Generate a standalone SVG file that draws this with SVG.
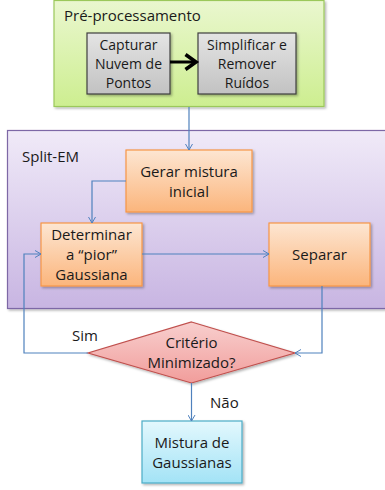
<svg xmlns="http://www.w3.org/2000/svg" width="385" height="490" viewBox="0 0 385 490">
<defs>
<linearGradient id="gGreen" x1="0" y1="0" x2="0" y2="1"><stop offset="0" stop-color="#eaf7cf"/><stop offset="1" stop-color="#cdee90"/></linearGradient>
<linearGradient id="gGrey" x1="0" y1="0" x2="0" y2="1"><stop offset="0" stop-color="#e4e4e4"/><stop offset="1" stop-color="#c2c2c2"/></linearGradient>
<linearGradient id="gPurple" x1="0" y1="0" x2="0" y2="1"><stop offset="0" stop-color="#f0eaf8"/><stop offset="1" stop-color="#c8b5e2"/></linearGradient>
<linearGradient id="gOrange" x1="0" y1="0" x2="0" y2="1"><stop offset="0" stop-color="#fde6d2"/><stop offset="1" stop-color="#fbb57c"/></linearGradient>
<linearGradient id="gRed" x1="0" y1="0" x2="0" y2="1"><stop offset="0" stop-color="#f8cfce"/><stop offset="1" stop-color="#f19d9b"/></linearGradient>
<linearGradient id="gBlue" x1="0" y1="0" x2="0" y2="1"><stop offset="0" stop-color="#e3f8fd"/><stop offset="1" stop-color="#a3e3f6"/></linearGradient>
<filter id="sh" x="-10%" y="-10%" width="130%" height="130%"><feDropShadow dx="1.5" dy="1.5" stdDeviation="1" flood-color="#000" flood-opacity="0.3"/></filter>
<marker id="arr" markerWidth="8" markerHeight="8" refX="7" refY="4" orient="auto" markerUnits="userSpaceOnUse"><path d="M1,0.5 L7,4 L1,7.5" fill="none" stroke="#4f81bd" stroke-width="1"/></marker>
<marker id="arrB" markerWidth="6" markerHeight="6" refX="4" refY="3" orient="auto" markerUnits="strokeWidth"><path d="M0.5,0.5 L4,3 L0.5,5.5" fill="none" stroke="#000" stroke-width="1.2"/></marker>
</defs>
<style>
text{font-family:"Open Sans","Liberation Sans",sans-serif;font-size:15px;fill:#1a1a1a;text-anchor:middle}
.sm{font-size:14px}
.lab{text-anchor:start}
.c{fill:none;stroke:#4f81bd;stroke-width:1.2}
</style>
<g id="preprocessamento">
<rect x="54" y="0.5" width="270" height="106" fill="url(#gGreen)" stroke="#9bc85a" stroke-width="1.2" filter="url(#sh)"/>
<text class="lab" x="64" y="21">Pré-processamento</text>
</g>
<g id="capturar">
<rect x="87" y="33" width="83" height="61" fill="url(#gGrey)" stroke="#3f3f3f" stroke-width="1.2" filter="url(#sh)"/>
<text class="sm" x="128.5" y="50">Capturar</text><text class="sm" x="128.5" y="69">Nuvem de</text><text class="sm" x="128.5" y="88">Pontos</text>
</g>
<g id="simplificar">
<rect x="198" y="33" width="98" height="61" fill="url(#gGrey)" stroke="#3f3f3f" stroke-width="1.2" filter="url(#sh)"/>
<text class="sm" x="247" y="50">Simplificar e</text><text class="sm" x="247" y="69">Remover</text><text class="sm" x="247" y="88">Ruídos</text>
</g>
<g id="splitem">
<rect x="7.5" y="130.5" width="380" height="178" fill="url(#gPurple)" stroke="#7d68a6" stroke-width="1.2" filter="url(#sh)"/>
<text class="lab" x="22" y="162">Split-EM</text>
</g>
<g id="gerar">
<rect x="126" y="150" width="126" height="62" fill="url(#gOrange)" stroke="#f79646" stroke-width="1.2" filter="url(#sh)"/>
<text x="189" y="177">Gerar mistura</text><text x="189" y="197">inicial</text>
</g>
<g id="determinar">
<rect x="41" y="223" width="101" height="63" fill="url(#gOrange)" stroke="#f79646" stroke-width="1.2" filter="url(#sh)"/>
<text x="91.5" y="240">Determinar</text><text x="91.5" y="260">a “pior”</text><text x="91.5" y="280">Gaussiana</text>
</g>
<g id="separar">
<rect x="269" y="223" width="101" height="63" fill="url(#gOrange)" stroke="#f79646" stroke-width="1.2" filter="url(#sh)"/>
<text x="319.5" y="260">Separar</text>
</g>
<g id="criterio">
<polygon points="191.5,322 295,353 191.5,383 88,353" fill="url(#gRed)" stroke="#c0504d" stroke-width="1.2" filter="url(#sh)"/>
<text x="191.5" y="348">Critério</text><text x="191.5" y="368">Minimizado?</text>
</g>
<g id="mistura">
<rect x="142" y="421" width="100" height="62" fill="url(#gBlue)" stroke="#4bacc6" stroke-width="1.2" filter="url(#sh)"/>
<text x="192" y="448">Mistura de</text><text x="192" y="468">Gaussianas</text>
</g>
<g id="connectors">
<line x1="170" y1="62" x2="196" y2="62" stroke="#000" stroke-width="3" marker-end="url(#arrB)"/>
<path class="c" d="M189,107 V150" marker-end="url(#arr)"/>
<path class="c" d="M126,181 H92 V223" marker-end="url(#arr)"/>
<path class="c" d="M142,254 H269" marker-end="url(#arr)"/>
<path class="c" d="M322,286 V353 H295" marker-end="url(#arr)"/>
<path class="c" d="M88,353 H24 V254 H41" marker-end="url(#arr)"/>
<path class="c" d="M191.5,383 V421" marker-end="url(#arr)"/>
<text class="lab" x="72" y="341">Sim</text>
<text class="lab" x="210" y="408">Não</text>
</g>
</svg>
